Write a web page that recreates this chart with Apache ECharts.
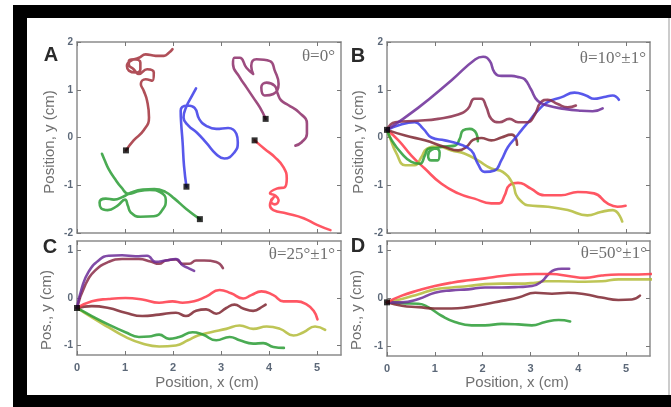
<!DOCTYPE html>
<html>
<head>
  <meta charset="utf-8" />
  <title>trajectories</title>
  <script src="https://cdn.jsdelivr.net/npm/echarts@6/dist/echarts.min.js"></script>
  <style>
    body { margin: 0; background: #fff; }
    #main { width: 671px; height: 407px; }
  </style>
</head>
<body>
  <div id="main"></div>
  <script>
    // ---- panel A (theta = 0) ----
    var aRedBrown = [[1.02,-0.27],[1.18,-0.06],[1.39,0.15],[1.50,0.42],[1.46,0.77],[1.39,0.98],[1.33,1.12],[1.43,1.22],[1.57,1.19],[1.60,1.36],[1.46,1.43],[1.29,1.33],[1.18,1.43],[1.08,1.53],[1.08,1.60],[1.18,1.64],[1.32,1.57],[1.32,1.43],[1.22,1.36],[1.08,1.40],[1.04,1.50],[1.11,1.60],[1.29,1.67],[1.43,1.74],[1.64,1.71],[1.81,1.71],[1.92,1.78],[1.99,1.85]];
    var aBlue = [[2.28,-1.03],[2.23,-0.6],[2.20,-0.1],[2.17,0.3],[2.16,0.56],[2.30,0.67],[2.45,0.62],[2.55,0.38],[2.70,0.24],[2.90,0.18],[3.15,0.2],[3.32,0.08],[3.35,-0.1],[3.28,-0.31],[3.07,-0.44],[2.90,-0.35],[2.70,-0.12],[2.50,0.1],[2.32,0.25],[2.22,0.42],[2.28,0.65],[2.40,0.88],[2.48,1.03]];
    var aGreen = [[2.56,-1.71],[2.27,-1.49],[2.03,-1.28],[1.84,-1.14],[1.61,-1.08],[1.37,-1.09],[1.13,-1.15],[0.96,-1.24],[0.77,-1.30],[0.60,-1.28],[0.47,-1.36],[0.50,-1.48],[0.64,-1.52],[0.84,-1.43],[1.00,-1.30],[1.06,-1.43],[1.12,-1.57],[1.32,-1.66],[1.60,-1.65],[1.79,-1.50],[1.85,-1.31],[1.74,-1.15],[1.52,-1.10],[1.30,-1.12],[1.08,-1.18],[0.92,-1.04],[0.80,-0.88],[0.66,-0.66],[0.57,-0.46],[0.52,-0.34]];
    var aPlum = [[3.93,0.39],[3.81,0.63],[3.67,0.84],[3.53,1.05],[3.39,1.26],[3.25,1.54],[3.28,1.67],[3.39,1.67],[3.53,1.46],[3.67,1.33],[3.63,1.50],[3.74,1.64],[4.02,1.60],[4.12,1.40],[4.20,1.12],[4.09,0.91],[3.91,0.88],[3.84,1.05],[3.95,1.15],[4.12,1.08],[4.18,0.92],[4.25,0.78],[4.40,0.68],[4.62,0.53],[4.79,0.29],[4.79,0.08],[4.68,-0.10],[4.55,-0.17]];
    var aRed = [[3.70,-0.06],[3.91,-0.24],[4.12,-0.41],[4.30,-0.62],[4.37,-0.86],[4.33,-1.04],[4.16,-1.07],[4.02,-1.17],[4.12,-1.21],[4.20,-1.31],[4.12,-1.40],[4.04,-1.33],[4.10,-1.25],[4.02,-1.42],[4.09,-1.52],[4.37,-1.59],[4.72,-1.69],[5.00,-1.83],[5.28,-1.94]];
    var aStartX = [1.02, 2.28, 2.56, 3.93, 3.70];
    var aStartY = [-0.27, -1.03, -1.71, 0.39, -0.06];

    // ---- panel B (theta = 10) ----
    var bViolet = [[0,0.16],[0.65,0.62],[1.35,1.2],[1.85,1.64],[2.01,1.69],[2.15,1.60],[2.25,1.36],[2.40,1.29],[2.60,1.29],[2.77,1.26],[2.88,1.22],[3.01,1.01],[3.15,0.77],[3.36,0.67],[3.71,0.60],[4.06,0.56],[4.30,0.55],[4.51,0.61]];
    var bMaroonUp = [[0,0.16],[0.17,0.32],[0.65,0.35],[1.07,0.39],[1.49,0.48],[1.69,0.60],[1.83,0.81],[1.97,0.81],[2.08,0.63],[2.18,0.39],[2.35,0.32],[2.56,0.39],[2.74,0.32],[2.94,0.32],[3.08,0.46],[3.22,0.74],[3.36,0.79],[3.57,0.70],[3.78,0.63],[3.95,0.67]];
    var bMaroonLow = [[0,0.16],[0.38,0.04],[0.79,-0.06],[1.21,-0.20],[1.49,-0.27],[1.66,-0.20],[1.80,-0.05],[1.97,-0.01],[2.18,-0.06],[2.39,0.0],[2.60,0.06],[2.70,-0.03],[2.72,-0.15]];
    var bBlue = [[0,0.16],[0.31,0.28],[0.58,0.32],[0.76,0.18],[0.93,0.0],[1.21,-0.06],[1.49,-0.13],[1.76,-0.27],[1.90,-0.55],[2.04,-0.72],[2.25,-0.69],[2.39,-0.48],[2.53,-0.20],[2.70,0.01],[2.81,0.15],[2.98,0.35],[3.15,0.56],[3.36,0.74],[3.64,0.84],[3.92,0.94],[4.16,0.88],[4.33,0.81],[4.54,0.85],[4.72,0.88],[4.85,0.79]];
    var bGreen = [[0,0.16],[0.1,-0.06],[0.31,-0.34],[0.51,-0.51],[0.69,-0.55],[0.79,-0.38],[0.86,-0.24],[0.96,-0.22],[1.10,-0.31],[1.06,-0.48],[0.93,-0.48],[0.86,-0.38],[0.93,-0.26],[1.21,-0.19],[1.42,-0.17],[1.52,-0.03],[1.59,0.15],[1.73,0.18],[1.87,0.08],[1.90,-0.08]];
    var bOlive = [[0,0.16],[0.06,0.0],[0.2,-0.34],[0.38,-0.58],[0.58,-0.58],[0.72,-0.41],[0.83,-0.24],[1.07,-0.19],[1.35,-0.27],[1.63,-0.34],[1.90,-0.48],[2.18,-0.65],[2.42,-0.72],[2.63,-0.97],[2.70,-1.20],[2.80,-1.33],[2.94,-1.42],[3.36,-1.45],[3.78,-1.52],[4.19,-1.63],[4.47,-1.56],[4.72,-1.52],[4.92,-1.76]];
    var bRed = [[0,0.16],[0.24,-0.06],[0.51,-0.38],[0.79,-0.65],[1.14,-0.97],[1.49,-1.17],[1.83,-1.28],[2.18,-1.38],[2.35,-1.38],[2.46,-1.21],[2.56,-1.0],[2.74,-0.95],[2.81,-0.96],[3.01,-1.07],[3.29,-1.21],[3.64,-1.21],[3.99,-1.14],[4.33,-1.17],[4.61,-1.38],[4.82,-1.45],[4.99,-1.43]];
    var bStart = [[0, 0.16]];

    // ---- panel C (theta = 25) ----
    var cViolet = [[0,-0.21],[0.1,0.21],[0.24,0.55],[0.45,0.79],[0.66,0.89],[0.94,0.90],[1.22,0.88],[1.46,0.89],[1.64,0.76],[1.85,0.79],[2.06,0.82],[2.20,0.69],[2.34,0.62],[2.44,0.57]];
    var cPlum = [[0,-0.21],[0.17,0.27],[0.38,0.58],[0.66,0.76],[0.94,0.82],[1.29,0.82],[1.53,0.77],[1.71,0.72],[1.85,0.79],[2.06,0.81],[2.20,0.72],[2.34,0.72],[2.48,0.79],[2.65,0.79],[2.90,0.76],[3.04,0.63]];
    var cRed = [[0,-0.21],[0.31,-0.07],[0.66,-0.02],[1.01,0.0],[1.36,-0.03],[1.71,-0.10],[1.99,-0.07],[2.20,-0.10],[2.44,-0.07],[2.69,0.03],[2.97,0.17],[3.21,0.10],[3.46,-0.01],[3.63,0.06],[3.84,0.14],[4.09,0.06],[4.30,-0.07],[4.58,-0.07],[4.79,-0.14],[4.93,-0.27],[5.01,-0.45]];
    var cMaroon = [[0,-0.21],[0.31,-0.17],[0.66,-0.21],[1.01,-0.31],[1.36,-0.38],[1.71,-0.35],[2.06,-0.31],[2.27,-0.38],[2.48,-0.27],[2.69,-0.24],[2.90,-0.33],[3.11,-0.21],[3.28,-0.14],[3.46,-0.22],[3.67,-0.27],[3.88,-0.17],[3.93,-0.14]];
    var cGreen = [[0,-0.21],[0.31,-0.38],[0.66,-0.56],[1.01,-0.72],[1.29,-0.82],[1.50,-0.81],[1.71,-0.77],[1.92,-0.86],[2.13,-0.82],[2.41,-0.72],[2.62,-0.77],[2.90,-0.89],[3.18,-0.82],[3.39,-0.89],[3.67,-0.96],[3.88,-0.95],[4.09,-1.03],[4.31,-1.05]];
    var cOlive = [[0,-0.21],[0.31,-0.41],[0.66,-0.62],[1.01,-0.82],[1.36,-0.96],[1.71,-1.02],[2.06,-1.0],[2.31,-0.89],[2.52,-0.79],[2.79,-0.72],[3.11,-0.65],[3.39,-0.58],[3.67,-0.65],[3.95,-0.60],[4.23,-0.65],[4.51,-0.79],[4.72,-0.72],[4.96,-0.60],[5.17,-0.67]];
    var cStart = [[0, -0.21]];

    // ---- panel D (theta = 50) ----
    var dRed = [[0,-0.08],[0.31,0.06],[0.66,0.17],[1.0,0.26],[1.35,0.33],[1.70,0.38],[2.05,0.42],[2.40,0.47],[2.75,0.50],[3.10,0.51],[3.45,0.51],[3.79,0.47],[4.14,0.43],[4.49,0.48],[4.84,0.50],[5.26,0.50],[5.54,0.51]];
    var dOlive = [[0,-0.08],[0.31,-0.01],[0.66,0.09],[1.0,0.19],[1.35,0.23],[1.70,0.26],[2.05,0.30],[2.40,0.31],[2.75,0.31],[3.10,0.33],[3.31,0.36],[3.59,0.36],[4.14,0.35],[4.49,0.36],[4.84,0.40],[5.54,0.40]];
    var dViolet = [[0,-0.08],[0.31,-0.08],[0.66,-0.01],[1.0,0.12],[1.35,0.17],[1.70,0.19],[2.05,0.23],[2.40,0.23],[2.75,0.24],[3.03,0.26],[3.24,0.36],[3.37,0.50],[3.51,0.60],[3.65,0.62],[3.81,0.62]];
    var dMaroon = [[0,-0.08],[0.31,-0.15],[0.66,-0.18],[1.0,-0.21],[1.35,-0.21],[1.70,-0.18],[2.05,-0.12],[2.40,-0.05],[2.75,0.02],[3.10,0.12],[3.45,0.10],[3.79,0.12],[4.14,0.09],[4.49,0.02],[4.84,-0.03],[5.12,-0.02],[5.29,0.06]];
    var dGreen = [[0,-0.08],[0.31,-0.10],[0.66,-0.11],[0.86,-0.18],[1.14,-0.36],[1.42,-0.49],[1.77,-0.56],[2.05,-0.56],[2.40,-0.53],[2.75,-0.54],[3.03,-0.56],[3.31,-0.49],[3.59,-0.45],[3.83,-0.48]];
    var dStart = [[0, -0.08]];

    var xTicks = [0, 1, 2, 3, 4, 5];
    var yTicksBig = [-2, -1, 0, 1, 2];
    var yTicksSmall = [-1, 0, 1];

    var col = {
      redBrown: '#a2303b',
      plum: '#8c2d68',
      blue: '#3b3be8',
      green: '#2a9c35',
      red: '#ff3848',
      olive: '#b3bb38',
      violet: '#6b2c98',
      maroon: '#8a2c48',
      maroonDark: '#7e2630'
    };

    var myChart = echarts.init(document.getElementById('main'));

    var grids = [
      { left: 77, top: 42, width: 264, height: 191 },
      { left: 387, top: 42, width: 263, height: 191 },
      { left: 77, top: 241, width: 264, height: 114 },
      { left: 387, top: 241, width: 263, height: 115 }
    ];

    var axisLineStyle = { color: '#8c8c8c', width: 1.5 };
    var labelColor = '#5c6878';

    var xAxes = [], yAxes = [];
    for (var i = 0; i < 4; i++) {
      var big = i < 2;
      // bottom x / left y carry the labels
      xAxes.push({
        type: 'value', gridIndex: i, position: 'bottom', min: 0, max: 5.5,
        axisLine: { show: true, onZero: false, lineStyle: axisLineStyle },
        axisTick: { show: true, inside: true, length: 4, customValues: xTicks, lineStyle: { color: '#777' } },
        axisLabel: { show: !big, customValues: xTicks, color: labelColor, fontSize: 11, fontWeight: 'bold', fontFamily: 'Arial', margin: 7 },
        splitLine: { show: false }
      });
      yAxes.push({
        type: 'value', gridIndex: i, position: 'left',
        min: big ? -2 : -1.2, max: big ? 2 : 1.2,
        axisLine: { show: true, onZero: false, lineStyle: axisLineStyle },
        axisTick: { show: true, inside: true, length: 4, customValues: big ? yTicksBig : yTicksSmall, lineStyle: { color: '#777' } },
        axisLabel: { show: true, customValues: big ? yTicksBig : yTicksSmall, color: labelColor, fontSize: 10, fontWeight: 'bold', fontFamily: 'Arial', margin: 4 },
        splitLine: { show: false }
      });
    }
    // top / right only for the box and inner ticks
    for (var j = 0; j < 4; j++) {
      var big2 = j < 2;
      xAxes.push({
        type: 'value', gridIndex: j, position: 'top', min: 0, max: 5.5,
        axisLine: { show: true, onZero: false, lineStyle: axisLineStyle },
        axisTick: { show: true, inside: true, length: 4, customValues: xTicks, lineStyle: { color: '#777' } },
        axisLabel: { show: false },
        splitLine: { show: false }
      });
      yAxes.push({
        type: 'value', gridIndex: j, position: 'right',
        min: big2 ? -2 : -1.2, max: big2 ? 2 : 1.2,
        axisLine: { show: true, onZero: false, lineStyle: axisLineStyle },
        axisTick: { show: true, inside: true, length: 4, customValues: big2 ? yTicksBig : yTicksSmall, lineStyle: { color: '#777' } },
        axisLabel: { show: false },
        splitLine: { show: false }
      });
    }

    function path(data, color, g) {
      return {
        type: 'line', xAxisIndex: g, yAxisIndex: g, data: data,
        showSymbol: false, smooth: 0.5, silent: true, animation: false,
        lineStyle: { color: color, width: 2.6, opacity: 0.85, cap: 'round', join: 'round' }
      };
    }
    function dots(data, g) {
      return {
        type: 'scatter', xAxisIndex: g, yAxisIndex: g, data: data,
        symbol: 'rect', symbolSize: 6, silent: true, animation: false, z: 5,
        itemStyle: { color: '#000' }
      };
    }

    var aStart = aStartX.map(function (x, k) { return [x, aStartY[k]]; });

    var series = [
      path(aRedBrown, col.redBrown, 0),
      path(aBlue, col.blue, 0),
      path(aGreen, col.green, 0),
      path(aPlum, col.plum, 0),
      path(aRed, col.red, 0),
      dots(aStart, 0),

      path(bRed, col.red, 1),
      path(bOlive, col.olive, 1),
      path(bGreen, col.green, 1),
      path(bMaroonLow, col.maroonDark, 1),
      path(bBlue, col.blue, 1),
      path(bMaroonUp, col.maroon, 1),
      path(bViolet, col.violet, 1),
      dots(bStart, 1),

      path(cOlive, col.olive, 2),
      path(cGreen, col.green, 2),
      path(cMaroon, col.maroonDark, 2),
      path(cRed, col.red, 2),
      path(cPlum, col.maroon, 2),
      path(cViolet, col.violet, 2),
      dots(cStart, 2),

      path(dGreen, col.green, 3),
      path(dMaroon, col.maroonDark, 3),
      path(dOlive, col.olive, 3),
      path(dViolet, col.violet, 3),
      path(dRed, col.red, 3),
      dots(dStart, 3)
    ];

    var titleFont = { fontSize: 15, fontFamily: 'Arial', fill: '#707070' };
    function txt(x, y, s, style, rot) {
      return {
        type: 'text', x: x, y: y, rotation: rot || 0, silent: true,
        style: Object.assign({ text: s, align: 'center', verticalAlign: 'middle' }, style)
      };
    }
    var letter = { fontSize: 20, fontWeight: 'bold', fontFamily: 'Arial', fill: '#2a2a2a' };
    var theta = { fontSize: 17, fontFamily: 'Liberation Serif', fill: '#707070', align: 'right' };

    var graphic = [
      // black frame round the figure
      { type: 'rect', shape: { x: 13, y: 5, width: 658, height: 13 }, style: { fill: '#000' }, silent: true },
      { type: 'rect', shape: { x: 13, y: 5, width: 14, height: 402 }, style: { fill: '#000' }, silent: true },
      { type: 'rect', shape: { x: 13, y: 395, width: 658, height: 12 }, style: { fill: '#000' }, silent: true },
      { type: 'line', shape: { x1: 669, y1: 18, x2: 669, y2: 395 }, style: { stroke: '#999', lineWidth: 1 }, silent: true },

      txt(51, 55, 'A', letter),
      txt(358, 56, 'B', letter),
      txt(50, 247, 'C', letter),
      txt(358, 246, 'D', letter),

      txt(50, 142, 'Position, y (cm)', titleFont, Math.PI / 2),
      txt(359, 142, 'Position, y (cm)', titleFont, Math.PI / 2),
      txt(47, 310, 'Pos., y (cm)', titleFont, Math.PI / 2),
      txt(357, 310, 'Pos., y (cm)', titleFont, Math.PI / 2),
      txt(207, 383, 'Position, x (cm)', titleFont),
      txt(517, 383, 'Position, x (cm)', titleFont),

      txt(335, 57, 'θ=0°', theta),
      txt(646, 59, 'θ=10°±1°', theta),
      txt(335, 255, 'θ=25°±1°', theta),
      txt(647, 254, 'θ=50°±1°', theta)
    ];

    var option = {
      backgroundColor: '#fff',
      animation: false,
      grid: grids,
      xAxis: xAxes,
      yAxis: yAxes,
      series: series,
      graphic: graphic
    };
    myChart.setOption(option);
  </script>
</body>
</html>
